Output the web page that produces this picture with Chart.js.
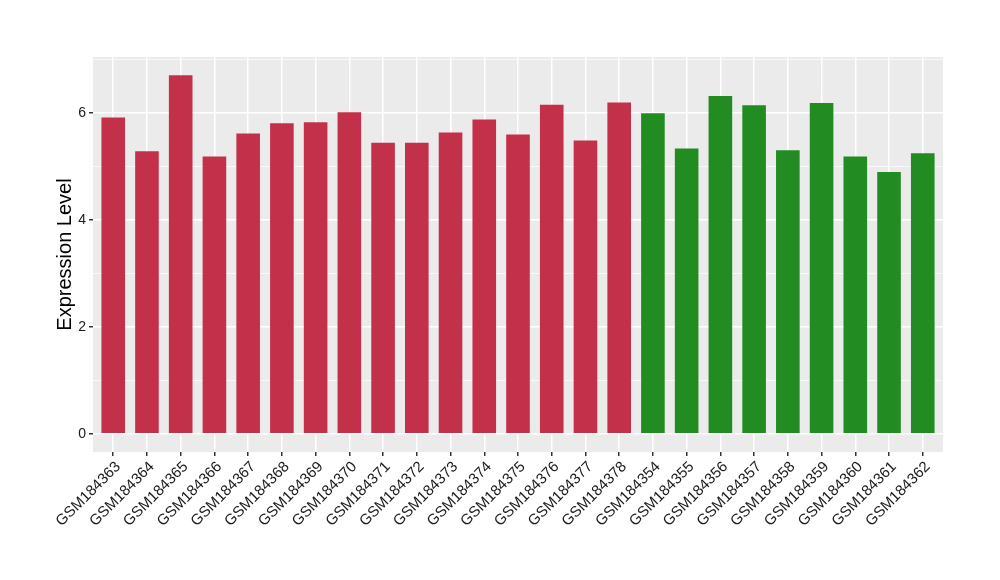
<!DOCTYPE html>
<html>
<head>
<meta charset="utf-8">
<script src="https://cdn.jsdelivr.net/npm/chart.js@4.4.0/dist/chart.umd.min.js"></script>
<style>
html,body{margin:0;padding:0;background:#fff;}
#wrap{width:1000px;height:580px;}
</style>
</head>
<body>
<div id="wrap"><canvas id="c" width="1000" height="580"></canvas></div>
<script>
const categories = ["GSM184363","GSM184364","GSM184365","GSM184366","GSM184367","GSM184368","GSM184369","GSM184370","GSM184371","GSM184372","GSM184373","GSM184374","GSM184375","GSM184376","GSM184377","GSM184378","GSM184354","GSM184355","GSM184356","GSM184357","GSM184358","GSM184359","GSM184360","GSM184361","GSM184362"];
const values = [5.91,5.28,6.70,5.18,5.61,5.80,5.82,6.01,5.44,5.44,5.63,5.87,5.59,6.15,5.48,6.19,5.99,5.33,6.31,6.14,5.30,6.18,5.18,4.89,5.24];
const groups = ["A","A","A","A","A","A","A","A","A","A","A","A","A","A","A","A","B","B","B","B","B","B","B","B","B"];
const yTickValues = [0,1,2,3,4,5,6,7];
const yLabel = "Expression Level";
const groupColors = {A:"#C3304A", B:"#228B22"};

const panelBg = {
  id:'panelBg',
  beforeDraw(chart){
    const {ctx, chartArea:a} = chart;
    ctx.save();
    ctx.fillStyle = '#EBEBEB';
    ctx.fillRect(a.left, a.top, a.right-a.left, a.bottom-a.top);
    ctx.restore();
  }
};

new Chart(document.getElementById('c'), {
  type:'bar',
  data:{
    datasets:[{
      data: values.map((v,i)=>({x:i, y:v})),
      backgroundColor: groups.map(g=>groupColors[g]),
      barPercentage:0.7,
      categoryPercentage:1.0,
      borderWidth:0
    }]
  },
  options:{
    responsive:false,
    animation:false,
    devicePixelRatio:1,
    layout:{padding:{top:57,right:57,left:0,bottom:0}},
    plugins:{legend:{display:false}, tooltip:{enabled:false}},
    scales:{
      x:{
        type:'linear',
        min:-0.6, max:categories.length-1+0.6,
        offset:false,
        afterBuildTicks(s){ s.ticks = categories.map((c,i)=>({value:i})); },
        grid:{offset:false, color:'#FFFFFF', lineWidth:1.5, tickColor:'#333333', tickLength:4, drawOnChartArea:true},
        border:{display:false},
        ticks:{autoSkip:false, maxRotation:45, minRotation:45, color:'#1A1A1A', font:{family:'"Liberation Sans", Arial, sans-serif', size:15}, padding:2, labelOffset:5,
          callback:(v)=> categories[v] ?? ''},
        afterFit(s){ s.height = 128; }
      },
      y:{
        min:-0.34, max:7.04,
        afterBuildTicks(s){ s.ticks = yTickValues.map(v=>({value:v})); },
        grid:{
          color:'#FFFFFF',
          lineWidth:(c)=> (c.tick && c.tick.value % 2 === 0) ? 1.5 : 0.7,
          tickColor:(c)=> (c.tick && c.tick.value % 2 === 0) ? '#333333' : 'rgba(0,0,0,0)',
          tickLength:4
        },
        border:{display:false},
        ticks:{
          color:'#1A1A1A',
          font:{family:'"Liberation Sans", Arial, sans-serif', size:14},
          padding:3,
          callback:(v)=> (v % 2 === 0) ? String(v) : ''
        },
        title:{display:true, text:yLabel, color:'#000000', font:{family:'"Liberation Sans", Arial, sans-serif', size:20}, padding:{top:53,bottom:0}},
        afterFit(s){ s.width = 93; }
      }
    }
  },
  plugins:[panelBg]
});
</script>
</body>
</html>
